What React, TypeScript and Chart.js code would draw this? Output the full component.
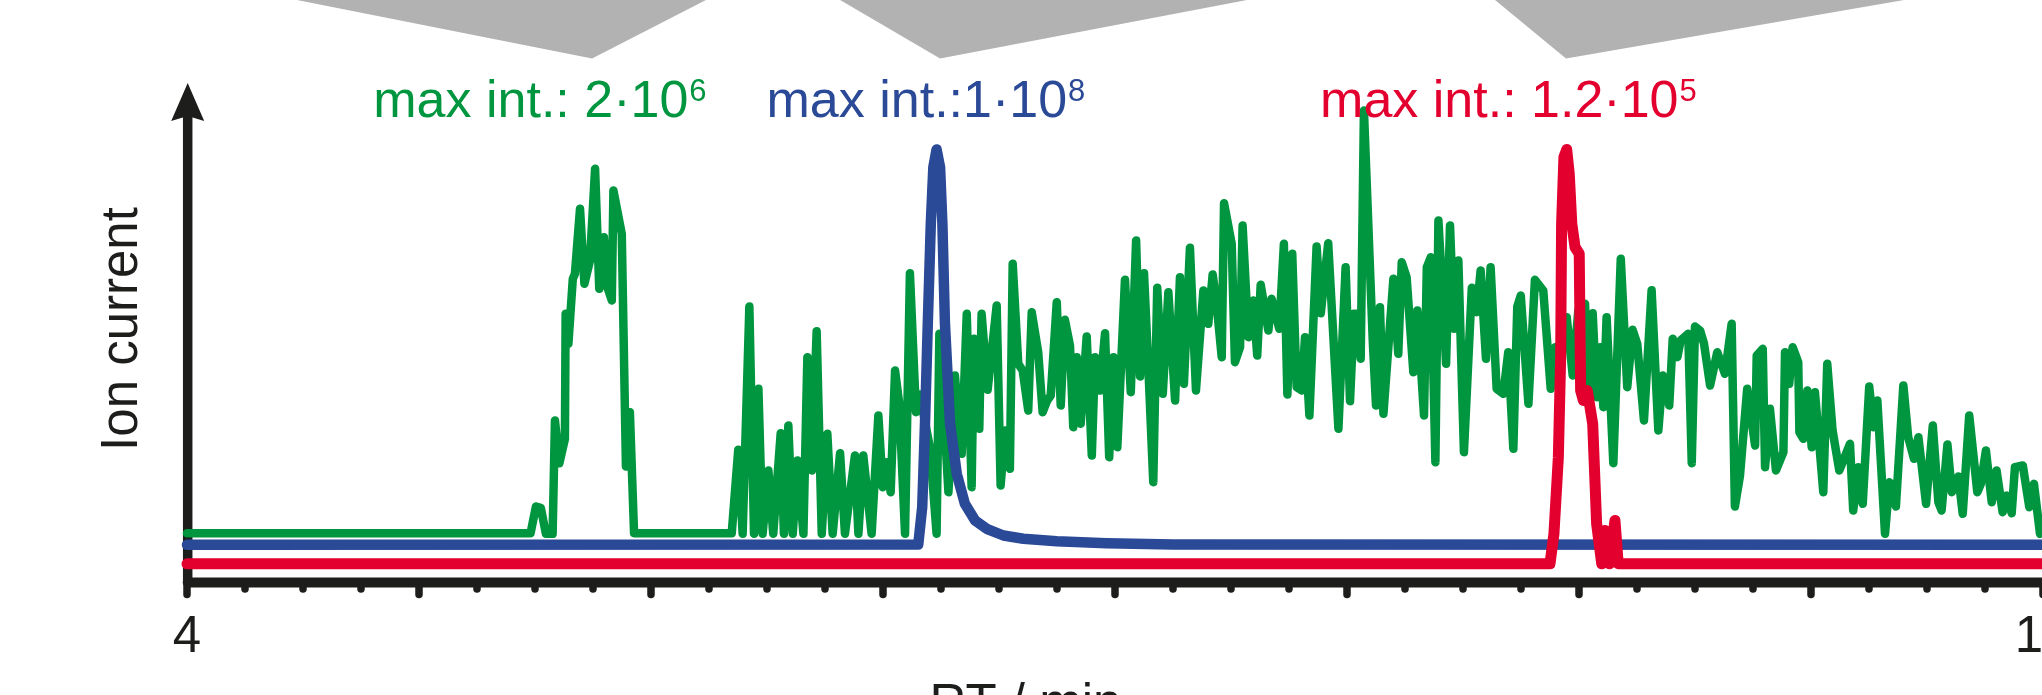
import React, { useEffect, useRef } from 'react';
import { Chart, registerables } from 'chart.js';

Chart.register(...registerables);

// ---------- data (RT in min, ion current in offset arbitrary units) ----------
const greenTime = [4.000, 5.481, 5.504, 5.525, 5.547, 5.576, 5.586, 5.605, 5.629, 5.632, 5.644, 5.663, 5.672, 5.694, 5.713, 5.737, 5.759, 5.777, 5.797, 5.812, 5.831, 5.838, 5.874, 5.892, 5.909, 5.927, 6.348, 6.376, 6.395, 6.424, 6.444, 6.463, 6.481, 6.506, 6.527, 6.559, 6.573, 6.592, 6.611, 6.631, 6.657, 6.674, 6.693, 6.714, 6.736, 6.760, 6.783, 6.815, 6.836, 6.879, 6.894, 6.915, 6.951, 6.980, 6.999, 7.016, 7.033, 7.052, 7.070, 7.095, 7.116, 7.142, 7.159, 7.203, 7.231, 7.243, 7.282, 7.310, 7.339, 7.361, 7.382, 7.392, 7.415, 7.425, 7.451, 7.490, 7.507, 7.526, 7.547, 7.559, 7.583, 7.602, 7.626, 7.641, 7.669, 7.688, 7.708, 7.723, 7.749, 7.766, 7.784, 7.806, 7.820, 7.835, 7.852, 7.878, 7.900, 7.914, 7.935, 7.957, 7.975, 7.993, 8.010, 8.043, 8.068, 8.091, 8.108, 8.125, 8.144, 8.165, 8.182, 8.206, 8.230, 8.259, 8.280, 8.297, 8.323, 8.349, 8.381, 8.402, 8.421, 8.438, 8.460, 8.470, 8.503, 8.517, 8.539, 8.550, 8.575, 8.596, 8.613, 8.628, 8.661, 8.675, 8.708, 8.728, 8.743, 8.764, 8.783, 8.805, 8.819, 8.838, 8.869, 8.887, 8.919, 8.963, 8.994, 9.013, 9.030, 9.049, 9.059, 9.073, 9.111, 9.125, 9.142, 9.157, 9.200, 9.221, 9.236, 9.257, 9.286, 9.303, 9.332, 9.344, 9.361, 9.381, 9.394, 9.415, 9.427, 9.444, 9.461, 9.480, 9.504, 9.538, 9.559, 9.576, 9.599, 9.619, 9.645, 9.674, 9.695, 9.717, 9.734, 9.749, 9.782, 9.810, 9.846, 9.878, 9.897, 9.918, 9.947, 9.973, 9.997, 10.026, 10.040, 10.059, 10.076, 10.091, 10.105, 10.119, 10.148, 10.180, 10.208, 10.231, 10.251, 10.280, 10.313, 10.342, 10.361, 10.389, 10.404, 10.424, 10.438, 10.471, 10.486, 10.500, 10.522, 10.539, 10.565, 10.596, 10.629, 10.658, 10.672, 10.694, 10.725, 10.759, 10.766, 10.792, 10.802, 10.823, 10.849, 10.881, 10.888, 10.906, 10.921, 10.945, 10.950, 10.967, 10.984, 11.003, 11.017, 11.053, 11.070, 11.093, 11.122, 11.168, 11.182, 11.204, 11.223, 11.251, 11.269, 11.286, 11.319, 11.338, 11.366, 11.398, 11.419, 11.444, 11.463, 11.496, 11.525, 11.549, 11.563, 11.588, 11.607, 11.635, 11.654, 11.682, 11.717, 11.732, 11.754, 11.779, 11.800, 11.826, 11.844, 11.865, 11.879, 11.913, 11.941, 11.961, 11.987, 12.073];
const greenIntensity = [49.3, 49.3, 76, 74.7, 48.7, 48.7, 162, 119.3, 143.7, 268.7, 238.7, 303.7, 308.7, 373.7, 298.7, 322, 413.7, 293.7, 345.3, 295.3, 282, 392, 348.7, 116, 170.3, 49.3, 49.3, 132.7, 48.7, 276, 48.7, 193.7, 48.7, 112, 48.7, 149.3, 48.7, 157, 48.7, 122, 48.7, 225.3, 112, 251.3, 48.7, 148.7, 48.7, 129.3, 48.7, 127, 48.7, 127, 48.7, 167, 95.3, 120.3, 90.3, 212, 178.7, 48.7, 309.3, 170.3, 188, 133.7, 48.7, 248.7, 90.3, 207, 128.7, 268.7, 95.3, 243.7, 153.7, 268.7, 192.7, 277, 97, 152, 113.7, 318.7, 218.7, 212, 172, 270.3, 230.3, 170.3, 182, 187, 280.3, 177, 262.7, 237, 155.3, 225.3, 158.7, 246, 127, 225.3, 192, 249.3, 125.3, 225.3, 135.3, 302.7, 190.3, 342, 206, 309.3, 213.7, 100.3, 294.7, 188.7, 290.3, 182, 305.3, 198.7, 334.7, 192, 292, 258.7, 308, 278.7, 225.3, 379.3, 338.7, 220.3, 235.3, 357, 245.3, 282, 227, 297.7, 252, 283.7, 253.7, 338.7, 188, 328.7, 195.3, 192, 245.3, 167, 336, 269.3, 339.3, 153.7, 315.3, 181.3, 268.7, 268.7, 223.7, 472, 242, 177, 275.3, 168.7, 303.7, 228.7, 320.3, 305.3, 210.3, 272, 167, 315.3, 325.3, 120.3, 362, 275.3, 218.7, 357, 253.7, 322, 130.3, 294.7, 270.3, 312, 223.7, 315.3, 193.7, 188.7, 230.3, 133.7, 276, 287, 178.7, 302.7, 292, 193.7, 235.3, 230.3, 265.3, 207, 272, 278.7, 185.3, 269.3, 185.3, 235.3, 175.3, 265.3, 119.3, 323.7, 195.3, 252.7, 238.7, 162, 292.3, 152, 207, 177, 243.7, 225.3, 242, 248.7, 119.3, 256, 252, 238.7, 197, 230.3, 208.7, 258.7, 76, 107, 193.7, 137, 227, 233.7, 115.3, 173.7, 112, 130.3, 230.3, 198.7, 235.3, 220.3, 150.3, 143.7, 192, 135.3, 190.3, 90.3, 218.7, 152, 112, 138.7, 72, 115.3, 78.7, 196, 155.3, 182, 48.7, 100.3, 76, 197, 145.3, 123.7, 145.3, 78.7, 157, 80.3, 72, 138, 90.3, 106, 68.7, 167, 90.3, 98.7, 132, 80.3, 112, 70.3, 87, 69.3, 115.3, 117, 75.3, 98.7, 48.7, 62];

const blueTime = [4.0, 7.152, 7.169, 7.181, 7.193, 7.206, 7.217, 7.231, 7.246, 7.256, 7.267, 7.289, 7.318, 7.353, 7.397, 7.447, 7.519, 7.605, 7.749, 7.964, 8.251, 12.073];
const blueIntensity = [37.7, 38, 75.3, 158.7, 258.7, 358.7, 415.3, 433, 415.3, 358.7, 258.7, 158.7, 108.7, 78.7, 62, 53.7, 47, 43.7, 41.3, 39.3, 38, 37.7];

const redTime = [4.0, 9.875, 9.892, 9.911, 9.921, 9.925, 9.935, 9.947, 9.958, 9.969, 9.983, 10.001, 10.007, 10.019, 10.036, 10.059, 10.076, 10.098, 10.112, 10.131, 10.155, 10.169, 12.073];
const redIntensity = [18.7, 18.7, 48.7, 125.3, 225.3, 358.7, 425.3, 433, 408.7, 358.7, 335.3, 328.7, 192, 182, 192, 158.7, 58.7, 18.7, 52, 18.7, 62, 18.7, 18.7];

const xTickValues = [4, 12];
const xTickLabels = ['4', '12'];
const minorTickStep = 0.25;

const labelTexts = ['max int.: 2·10', 'max int.:1·10', 'max int.: 1.2·10'];
const labelExponents = ['6', '8', '5'];
const labelStartTime = [4.803, 6.498, 8.884];
const labelBaselineValue = 465.2;

const calloutLeftTime = [4.474, 6.815, 9.638];
const calloutApexTime = [5.746, 7.246, 9.944];
const calloutRightTime = [6.237, 8.569, 11.401];
const calloutApexValue = 524;

// ---------- style ----------
const GREEN = '#00963f';
const BLUE = '#2a4996';
const RED = '#e3002f';
const INK = '#1d1d1b';
const GREY = '#b2b2b2';
const FONT = '"Liberation Sans", Arial, Helvetica, sans-serif';

const decor = {
  id: 'decor',
  beforeDatasetsDraw(chart: any) {
    const { ctx, chartArea, scales } = chart;
    const x = scales.x;
    const y = scales.y;
    const y0 = y.getPixelForValue(0);
    const top = y.getPixelForValue(y.max + chartArea.top);
    const axisX = chartArea.left + 0.7;
    ctx.save();
    // grey callouts
    ctx.fillStyle = GREY;
    for (let i = 0; i < calloutApexTime.length; i++) {
      ctx.beginPath();
      ctx.moveTo(x.getPixelForValue(calloutLeftTime[i]), top);
      ctx.lineTo(x.getPixelForValue(calloutApexTime[i]), y.getPixelForValue(calloutApexValue));
      ctx.lineTo(x.getPixelForValue(calloutRightTime[i]), top);
      ctx.closePath();
      ctx.fill();
    }
    ctx.strokeStyle = INK;
    ctx.fillStyle = INK;
    // tick marks
    ctx.lineCap = 'round';
    ctx.lineWidth = 7.5;
    for (let v = x.min; v <= x.max + 1e-9; v += minorTickStep) {
      const px = x.getPixelForValue(v);
      const major = Math.abs(v - Math.round(v)) < 1e-6;
      ctx.beginPath();
      ctx.moveTo(px, y0);
      ctx.lineTo(px, y0 + (major ? 12 : 6.5));
      ctx.stroke();
    }
    // x axis line
    ctx.lineWidth = 10;
    ctx.beginPath();
    ctx.moveTo(axisX, y0);
    ctx.lineTo(chartArea.right + 40, y0);
    ctx.stroke();
    // y axis line
    ctx.lineCap = 'butt';
    ctx.lineWidth = 9.5;
    ctx.beginPath();
    ctx.moveTo(axisX, y0);
    ctx.lineTo(axisX, chartArea.top + 32);
    ctx.stroke();
    // arrow head
    const tipY = chartArea.top;
    ctx.beginPath();
    ctx.moveTo(axisX, tipY);
    ctx.lineTo(axisX + 16.5, tipY + 38);
    ctx.lineTo(axisX, tipY + 33);
    ctx.lineTo(axisX - 16.5, tipY + 38);
    ctx.closePath();
    ctx.fill();
    ctx.restore();
  },
  afterDraw(chart: any) {
    const { ctx, chartArea, scales } = chart;
    const x = scales.x;
    const y = scales.y;
    const colors = [GREEN, BLUE, RED];
    ctx.save();
    ctx.textAlign = 'left';
    ctx.textBaseline = 'alphabetic';
    for (let i = 0; i < labelTexts.length; i++) {
      const px = x.getPixelForValue(labelStartTime[i]);
      const py = y.getPixelForValue(labelBaselineValue);
      ctx.fillStyle = colors[i];
      ctx.font = `52px ${FONT}`;
      ctx.fillText(labelTexts[i], px, py);
      const w = ctx.measureText(labelTexts[i]).width;
      ctx.font = `31px ${FONT}`;
      ctx.fillText(labelExponents[i], px + w + 1, py - 16);
    }
    // y axis title
    ctx.fillStyle = INK;
    ctx.font = `51px ${FONT}`;
    ctx.save();
    ctx.translate(chartArea.left - 50, y.getPixelForValue(253.5));
    ctx.rotate(-Math.PI / 2);
    ctx.textAlign = 'center';
    ctx.fillText('Ion current', 0, 0);
    ctx.restore();
    // x axis title
    ctx.textAlign = 'center';
    ctx.fillText('RT / min', x.getPixelForValue(7.614), y.getPixelForValue(-137.5));
    ctx.restore();
  },
};

export default function App() {
  const ref = useRef<HTMLCanvasElement>(null);
  useEffect(() => {
    const canvas = ref.current;
    if (!canvas) return;
    const line = (t: number[], v: number[], color: string, width: number, order: number) => ({
      data: t.map((tt, i) => ({ x: tt, y: v[i] })),
      borderColor: color,
      backgroundColor: color,
      borderWidth: width,
      pointRadius: 0,
      tension: 0,
      fill: false,
      borderJoinStyle: 'round' as const,
      borderCapStyle: 'round' as const,
      clip: false as const,
      order,
    });
    const chart = new Chart(canvas, {
      type: 'line',
      data: {
        datasets: [
          line(greenTime, greenIntensity, GREEN, 8.5, 2),
          line(blueTime, blueIntensity, BLUE, 10.5, 1),
          line(redTime, redIntensity, RED, 11, 0),
        ] as any,
      },
      options: {
        animation: false,
        responsive: false,
        maintainAspectRatio: false,
        layout: { padding: { left: 187, right: 59, top: 83, bottom: 67.5 } },
        plugins: {
          legend: { display: false },
          tooltip: { enabled: false },
          title: { display: false },
        },
        scales: {
          x: {
            type: 'linear',
            min: 4,
            max: 12.25,
            grid: { display: false, drawTicks: false },
            border: { display: false },
            afterBuildTicks: (s: any) => {
              s.ticks = xTickValues.map((v) => ({ value: v }));
            },
            ticks: {
              autoSkip: false,
              maxRotation: 0,
              padding: 29.5,
              color: INK,
              font: { family: FONT, size: 51, lineHeight: 1 },
              callback: (v: any) => {
                const i = xTickValues.indexOf(Number(v));
                return i >= 0 ? xTickLabels[i] : '';
              },
            },
          },
          y: { type: 'linear', display: false, min: 0, max: 499.5 },
        },
      } as any,
      plugins: [decor],
    });
    return () => chart.destroy();
  }, []);

  return (
    <div style={{ position: 'fixed', left: 0, top: 0, width: 2042, height: 695, overflow: 'hidden', background: '#fff' }}>
      <canvas ref={ref} width={2160} height={760} style={{ display: 'block', width: 2160, height: 760 }} />
    </div>
  );
}
